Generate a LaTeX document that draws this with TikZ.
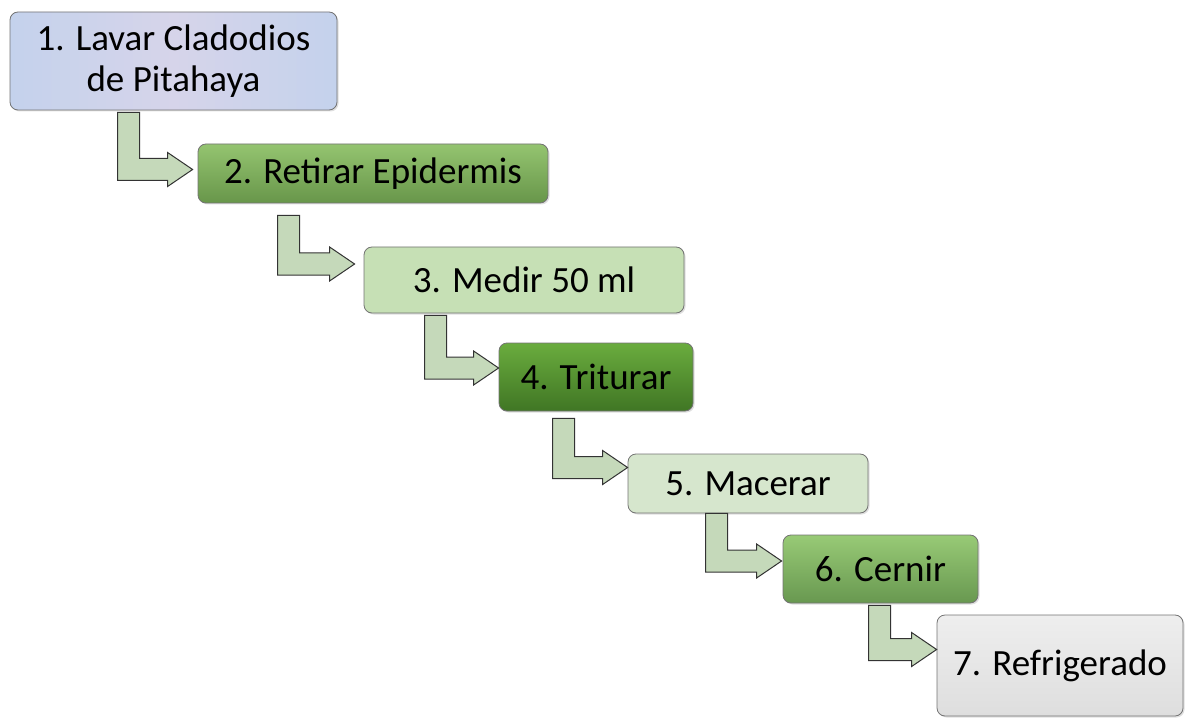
\documentclass[tikz,border=0pt]{standalone}
\usepackage{fontspec}
\setmainfont{Carlito}
\usetikzlibrary{calc,shadows}
\definecolor{arrowfill}{RGB}{197,217,186}
\definecolor{bOneA}{RGB}{196,210,236}
\definecolor{bOneB}{RGB}{214,212,234}
\definecolor{bTwoT}{RGB}{148,196,112}
\definecolor{bTwoB}{RGB}{104,150,74}
\definecolor{bThree}{RGB}{198,224,181}
\definecolor{bFourT}{RGB}{106,172,62}
\definecolor{bFourB}{RGB}{64,118,36}
\definecolor{bFive}{RGB}{214,230,205}
\definecolor{bSixT}{RGB}{152,202,118}
\definecolor{bSixB}{RGB}{104,152,80}
\definecolor{bSevenA}{RGB}{238,238,238}
\definecolor{bSevenB}{RGB}{222,222,222}
\tikzset{
  stepbox/.style={rounded corners=8pt, draw=black!55, line width=0.8pt,
    minimum width=#1, inner sep=0pt, align=center,
    font=\fontsize{37}{41}\selectfont,
    drop shadow={opacity=0.25, shadow xshift=1.5pt, shadow yshift=-1.5pt}},
  bentarrow/.style={draw=black!80, line width=1pt, fill=arrowfill, line join=miter}
}
\newcommand{\bentarr}[2]{%
  \path[bentarrow] let \p1=(#1), \p2=(#2) in
    (\x1,\y1) -- (\x1+22pt,\y1) -- (\x1+22pt,\y2+11pt) -- (\x2-25pt,\y2+11pt)
    -- (\x2-25pt,\y2+17pt) -- (\x2,\y2) -- (\x2-25pt,\y2-17pt)
    -- (\x2-25pt,\y2-11pt) -- (\x1,\y2-11pt) -- cycle;}
\begin{document}
\begin{tikzpicture}[x=1pt,y=-1pt]
\useasboundingbox (0,0) rectangle (1185,719);
\node[stepbox=327pt, minimum height=98pt, left color=bOneA, right color=bOneA, middle color=bOneB] (b1) at (173.5,61) {1. Lavar Cladodios\\de Pitahaya};
\node[stepbox=350pt, minimum height=59pt, top color=bTwoT, bottom color=bTwoB] (b2) at (373,173.5) {2. Retirar Epidermis};
\node[stepbox=320pt, minimum height=66pt, fill=bThree] (b3) at (524,280) {3. Medir 50 ml};
\node[stepbox=194pt, minimum height=68pt, top color=bFourT, bottom color=bFourB] (b4) at (596,377) {4. Triturar};
\node[stepbox=240pt, minimum height=59pt, fill=bFive] (b5) at (748,483.5) {5. Macerar};
\node[stepbox=195pt, minimum height=68pt, top color=bSixT, bottom color=bSixB] (b6) at (880.5,569) {6. Cernir};
\node[stepbox=246pt, minimum height=101pt, top color=bSevenA, bottom color=bSevenB] (b7) at (1060,665.5) {7. Refrigerado};
\bentarr{$(b1.south west)+(108,2)$}{$(b2.west)+(-5,-4)$}
\bentarr{$(b2.south west)+(80,12)$}{$(b3.west)+(-9,-16)$}
\bentarr{$(b3.south west)+(61,2)$}{$(b4.west)+(0,-9)$}
\bentarr{$(b4.south west)+(54,7)$}{$(b5.west)+(0,-16)$}
\bentarr{$(b5.south west)+(78,0)$}{$(b6.west)+(-1,-8)$}
\bentarr{$(b6.south west)+(86,2)$}{$(b7.west)+(0,-16)$}
\end{tikzpicture}
\end{document}
